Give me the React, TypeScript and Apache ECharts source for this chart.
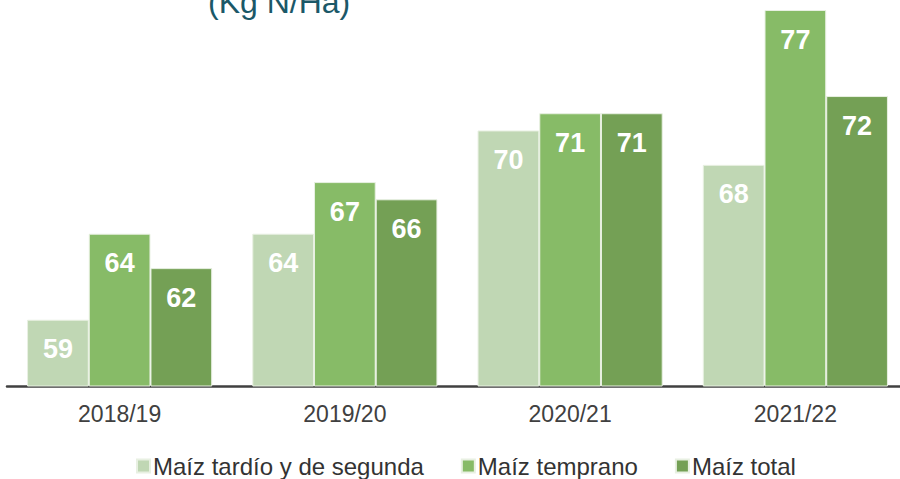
import React, { useEffect, useRef } from "react";
import * as echarts from "echarts";

const categories = ["2018/19", "2019/20", "2020/21", "2021/22"];
const seriesNames = ["Maíz tardío y de segunda", "Maíz temprano", "Maíz total"];
const tardio = [59, 64, 70, 68];
const temprano = [64, 67, 71, 77];
const total = [62, 66, 71, 72];
const colors = ["#c0d7b4", "#87bb67", "#74a055"];
const titleText = "(Kg N/Ha)";

export default function App() {
  const ref = useRef<HTMLDivElement>(null);
  useEffect(() => {
    if (!ref.current) return;
    const chart = echarts.init(ref.current, undefined, { renderer: "svg" });
    const data = [tardio, temprano, total];
    chart.setOption({
      animation: false,
      textStyle: { fontFamily: "Liberation Sans, Arial, sans-serif" },
      graphic: [
        {
          type: "text",
          left: 208,
          top: -14,
          style: {
            text: titleText,
            fontSize: 32,
            fill: "#1b5868",
            fontFamily: "Liberation Sans, Arial, sans-serif",
          },
        },
      ],
      legend: {
        data: seriesNames,
        top: 449,
        left: 131,
        itemWidth: 13,
        itemHeight: 13,
        itemGap: 37,
        icon: "rect",
        textStyle: { fontSize: 24, color: "#333333", padding: [0, 0, 0, -2] },
      },
      grid: { left: 7, width: 901, top: 10, bottom: 93 },
      xAxis: {
        type: "category",
        data: categories,
        axisLine: { lineStyle: { color: "#404040", width: 2.5 } },
        axisTick: { show: false },
        axisLabel: { fontSize: 23, color: "#404040", margin: 16 },
      },
      yAxis: {
        type: "value",
        min: 55.15,
        max: 77,
        show: false,
        splitLine: { show: false },
      },
      series: data.map((d, i) => ({
        name: seriesNames[i],
        type: "bar",
        data: d,
        barGap: "0%",
        barCategoryGap: "17.8%",
        itemStyle: { color: colors[i], borderColor: "#e8f0e2", borderWidth: 1 },
        label: {
          show: true,
          position: "insideTop",
          distance: 16,
          color: "#ffffff",
          fontWeight: "bold",
          fontSize: 27,
          formatter: (p: any) => String(Math.round(p.value)),
        },
      })),
    });
    return () => chart.dispose();
  }, []);
  return (
    <div style={{ width: 900, height: 479, position: "absolute", left: 0, top: 0, overflow: "hidden" }}>
      <div ref={ref} style={{ width: 910, height: 479 }} />
    </div>
  );
}
